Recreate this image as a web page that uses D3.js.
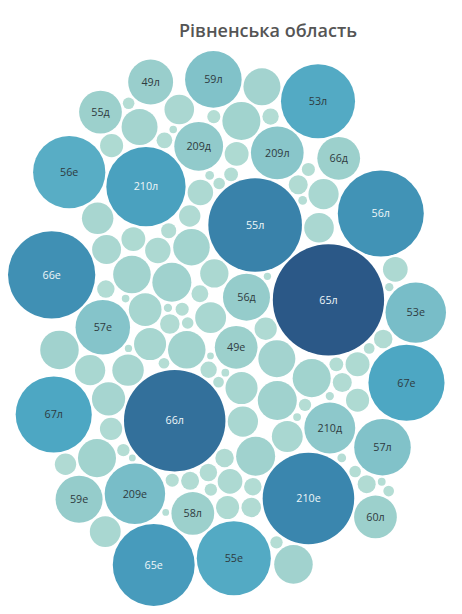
<!DOCTYPE html>
<html>
<style>
    body {
        margin: 0;
        background: #fff;
        font-family: "Open Sans", sans-serif;
    }
    text.title {
        fill: #555;
        font-size: 18px;
        font-weight: 600;
        text-anchor: middle;
    }
    g.bubble text {
        font-size: 11px;
        text-anchor: middle;
    }
</style>
<body>
<svg id="viz" width="462" height="614"></svg>

<script src="https://cdnjs.cloudflare.com/ajax/libs/d3/7.8.5/d3.min.js"></script>
<script>
    // labelled bubbles (district + suffix) and their sizes
    var names  = ['65л', '66л', '55л', '210е', '66е', '56л', '65е', '210л', '67е', '67л',
                  '53л', '55е', '56е', '53е', '209е', '59л', '57л', '57е', '209л', '210д',
                  '209д', '56д', '59е', '49л', '60л', '49е', '66д', '58л', '55д'];
    var values = [3250, 2700, 2300, 2200, 2000, 1940, 1760, 1650, 1520, 1520,
                  1440, 1440, 1370, 960, 960, 840, 840, 780, 730, 680,
                  625, 580, 580, 530, 480, 480, 480, 480, 480];

    // the many small unlabelled bubbles
    var smallValues = [400, 390, 380, 370, 400, 360, 380, 350, 390, 370, 360, 400, 340, 380,
                       290, 270, 250, 260, 240, 280, 230, 250, 260, 220, 240, 270, 230, 250, 210, 240,
                       170, 150, 160, 140, 130, 150, 170, 140, 120, 160, 130, 150, 140, 120,
                       100, 90, 80, 95, 85, 70, 100, 75, 90, 80, 65, 85, 70, 95, 80, 60,
                       45, 40, 35, 50, 30, 45, 40, 35, 30, 45, 50, 40, 35, 30, 40, 45, 35, 30,
                       20, 16, 15, 18, 12, 20, 16, 14, 18, 12, 15, 20, 16, 14, 12, 18];

    var title = 'Рівненська область';

    var svg = d3.select('#viz');

    svg.append('text')
        .attr('class', 'title')
        .attr('x', 268)
        .attr('y', 37)
        .text(title);

    var nodes = names.map(function(n, i) { return {name: n, value: values[i]}; })
        .concat(smallValues.map(function(v) { return {name: '', value: v}; }));

    var r = d3.scaleSqrt()
        .domain([0, d3.max(values)])
        .range([0, 57]);

    var color = d3.scaleLinear()
        .domain([0, 500, 1500, 2200, 3250])
        .range(['#b6ded5', '#9bcfcc', '#4ea8c4', '#3a86ae', '#2b5887']);

    nodes.forEach(function(d) { d.r = r(d.value); });

    var sim = d3.forceSimulation(nodes)
        .force('x', d3.forceX(0).strength(0.07))
        .force('y', d3.forceY(0).strength(0.035))
        .force('collide', d3.forceCollide(function(d) { return d.r + 1.2; }).iterations(4))
        .stop();

    for (var i = 0; i < 500; i++) sim.tick();

    // fit the packed blob into the chart area
    var x0 = d3.min(nodes, function(d) { return d.x - d.r; }),
        x1 = d3.max(nodes, function(d) { return d.x + d.r; }),
        y0 = d3.min(nodes, function(d) { return d.y - d.r; }),
        y1 = d3.max(nodes, function(d) { return d.y + d.r; });

    var box = {left: 8, right: 446, top: 45, bottom: 612};
    var k = Math.min((box.right - box.left) / (x1 - x0), (box.bottom - box.top) / (y1 - y0));
    var tx = (box.left + box.right) / 2 - k * (x0 + x1) / 2,
        ty = (box.top + box.bottom) / 2 - k * (y0 + y1) / 2;

    var g = svg.append('g')
        .attr('transform', 'translate(' + tx + ',' + ty + ') scale(' + k + ')');

    var bubble = g.selectAll('g.bubble')
        .data(nodes)
        .enter()
        .append('g')
        .attr('class', 'bubble')
        .attr('transform', function(d) { return 'translate(' + d.x + ',' + d.y + ')'; });

    bubble.append('circle')
        .attr('r', function(d) { return d.r; })
        .attr('fill', function(d) { return color(d.value); });

    bubble.filter(function(d) { return d.name !== ''; })
        .append('text')
        .attr('dy', '0.35em')
        .attr('font-size', 11 / k)
        .attr('fill', function(d) { return d.value >= 1600 ? '#eef6f8' : '#2f3b40'; })
        .text(function(d) { return d.name; });
</script>
</body>
</html>
